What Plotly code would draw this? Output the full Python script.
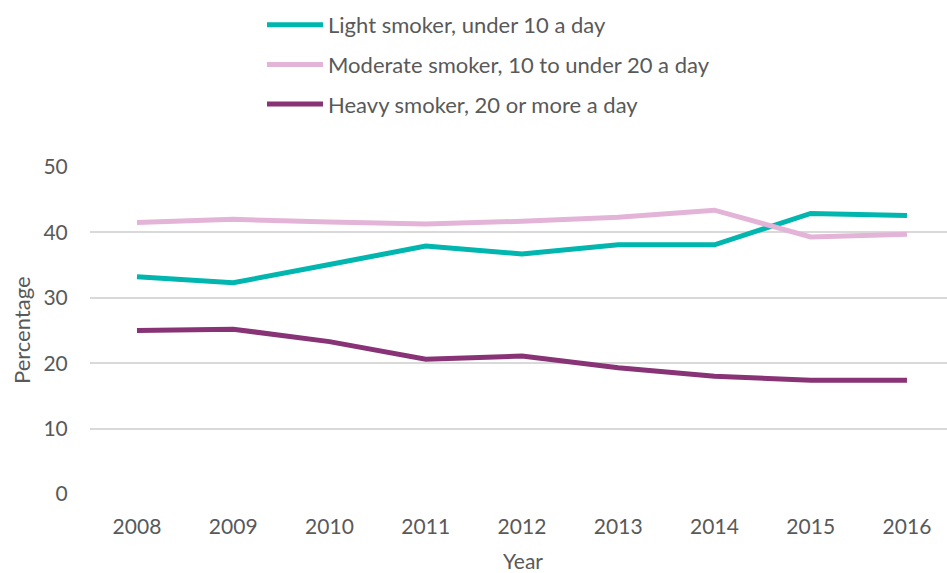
import plotly.graph_objects as go

years = ["2008", "2009", "2010", "2011", "2012", "2013", "2014", "2015", "2016"]
light = [33.2, 32.3, 35.1, 37.9, 36.7, 38.1, 38.1, 42.9, 42.6]
moderate = [41.5, 42.0, 41.6, 41.3, 41.7, 42.3, 43.4, 39.3, 39.7]
heavy = [25.0, 25.2, 23.3, 20.6, 21.1, 19.3, 18.0, 17.4, 17.4]

series_names = ["Light smoker, under 10 a day",
                "Moderate smoker, 10 to under 20 a day",
                "Heavy smoker, 20 or more a day"]
colors = ["#00B6AE", "#E3B4D7", "#873376"]

FONT = "Lato"
GREY = "#595959"
W, H = 947, 573
ML, MR, MT, MB = 90, 0, 167, 79

fig = go.Figure()
for i, (name, vals) in enumerate(zip(series_names, [light, moderate, heavy])):
    fig.add_trace(go.Scatter(
        x=years, y=vals, mode="lines", name=name,
        line=dict(color=colors[i], width=5),
        legendgroup=f"g{i}",
    ))

pw, ph = W - ML - MR, H - MT - MB

fig.update_layout(
    width=W, height=H,
    margin=dict(l=ML, r=MR, t=MT, b=MB, autoexpand=False),
    paper_bgcolor="white", plot_bgcolor="white",
    font=dict(family=FONT, size=21, color=GREY),
    showlegend=True,
    legend=dict(
        x=262 / W, y=1 - 4 / H, xref="container", yref="container",
        xanchor="left", yanchor="top",
        traceorder="grouped", tracegroupgap=8,
        itemwidth=56,
        font=dict(family=FONT, size=22, color=GREY),
        bgcolor="rgba(0,0,0,0)",
    ),
    xaxis=dict(
        type="category",
        range=[-0.488, 8.416],
        showgrid=False, showline=False, zeroline=False,
        ticks="outside", ticklen=14, tickcolor="rgba(0,0,0,0)",
        tickangle=0, tickfont=dict(size=21, color=GREY),
    ),
    yaxis=dict(
        range=[0, 50], tickvals=[0, 10, 20, 30, 40, 50],
        showgrid=True, gridcolor="#D9D9D9", gridwidth=1.5,
        zeroline=False, showline=False,
        ticks="outside", ticklen=17, tickcolor="rgba(0,0,0,0)",
        tickfont=dict(size=21, color=GREY),
    ),
    annotations=[
        dict(text="Percentage", textangle=-90, showarrow=False,
             xref="paper", yref="paper",
             x=(21 - ML) / pw, y=(H - MB - 330) / ph,
             xanchor="center", yanchor="middle",
             font=dict(family=FONT, size=22, color=GREY)),
        dict(text="Year", showarrow=False,
             xref="paper", yref="paper",
             x=(523 - ML) / pw, y=(H - MB - 560) / ph,
             xanchor="center", yanchor="middle",
             font=dict(family=FONT, size=21, color=GREY)),
    ],
)

fig.write_html("out.html")
